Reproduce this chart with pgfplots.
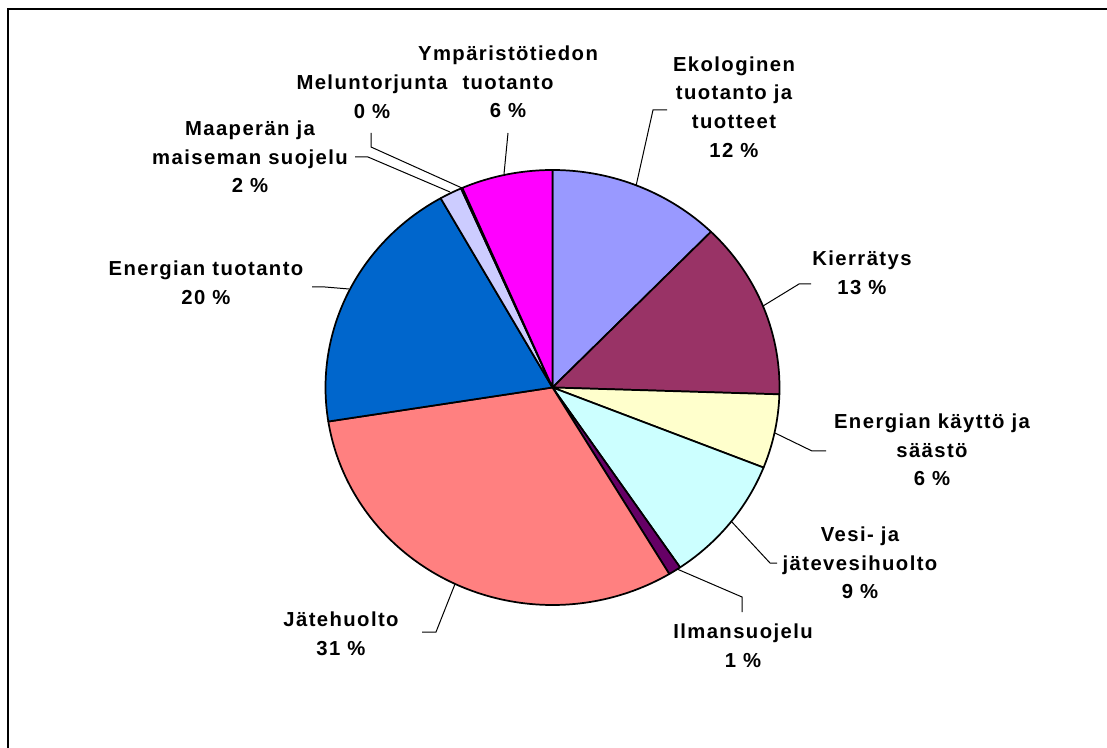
\documentclass[border=0pt]{standalone}
\usepackage{fontspec}
\setmainfont{Liberation Sans}[LetterSpace=7]
\usepackage{pgfplots}
\pgfplotsset{compat=1.18}
\definecolor{c1}{HTML}{9999FF}
\definecolor{c2}{HTML}{993366}
\definecolor{c3}{HTML}{FFFFCC}
\definecolor{c4}{HTML}{CCFFFF}
\definecolor{c5}{HTML}{660066}
\definecolor{c6}{HTML}{FF8080}
\definecolor{c7}{HTML}{0066CC}
\definecolor{c8}{HTML}{CCCCFF}
\definecolor{c9}{HTML}{000080}
\definecolor{c10}{HTML}{FF00FF}
\begin{document}
\begin{tikzpicture}
\useasboundingbox (0,0) rectangle (830.25pt,560.25pt);
\fill[white] (0,0) rectangle (830.25pt,560.25pt);
\begin{axis}[at={(414.375pt,269.625pt)}, anchor=origin,
  x=170.25pt, y=163.125pt, xmin=-1, xmax=1, ymin=-1, ymax=1,
  hide axis, clip=false]
\xdef\cum{0}
% shares in percent, clockwise from 12 o'clock
\foreach \v/\c in {12.3/c1, 13.2/c2, 5.5/c3, 9.5/c4, 0.9/c5, 31.1/c6, 19.3/c7, 1.6/c8, 0.1/c9, 6.5/c10} {
  \pgfmathsetmacro\a{90-\cum*3.6}
  \pgfmathsetmacro\b{90-(\cum+\v)*3.6}
  \edef\tmp{\noexpand\addplot[draw=black, line width=1.3pt, line join=round, fill=\c, domain=\b:\a, samples=90] ({cos(x)},{sin(x)}) -- (axis cs:0,0) -- cycle;}
  \tmp
  \pgfmathsetmacro\n{\cum+\v}
  \xdef\cum{\n}
}
\end{axis}
\begin{scope}[shift={(0pt,560.25pt)}, x=0.75pt, y=-0.75pt]
\draw[line width=1.2pt] (8,760) -- (8,9) -- (1120,9);
\tikzset{lbl/.style={align=center, font=\bfseries\fontsize{15.2}{21.5}\selectfont, inner sep=0pt}}
\node[lbl] at (734,107) {Ekologinen\\tuotanto ja\\tuotteet\\12 \%};
\node[lbl] at (862,273) {Kierrätys\\13 \%};
\node[lbl] at (932,450) {Energian käyttö ja\\säästö\\6 \%};
\node[lbl] at (860,563) {Vesi- ja\\jätevesihuolto\\9 \%};
\node[lbl] at (743,646) {Ilmansuojelu\\1 \%};
\node[lbl] at (341,634) {Jätehuolto\\31 \%};
\node[lbl] at (206,283) {Energian tuotanto\\20 \%};
\node[lbl] at (250,157) {Maaperän ja\\maiseman suojelu\\2 \%};
\node[lbl] at (372,97) {Meluntorjunta\\0 \%};
\node[lbl] at (508,82) {Ympäristötiedon\\tuotanto\\6 \%};
\tikzset{ld/.style={line width=0.75pt}}
\draw[ld] (636,186) -- (653,110) -- (667,110);
\draw[ld] (763,306) -- (799,284) -- (811,284);
\draw[ld] (775,433) -- (812,451) -- (826,451);
\draw[ld] (731,521) -- (770,563) -- (777,563);
\draw[ld] (677,569) -- (742,597) -- (742,612);
\draw[ld] (455,584) -- (436,632) -- (422,632);
\draw[ld] (349,289) -- (325,287) -- (312,287);
\draw[ld] (450,192) -- (368,157) -- (355,157);
\draw[ld] (462,188) -- (371,147) -- (371,133);
\draw[ld] (504,174) -- (508,133);
\end{scope}
\end{tikzpicture}
\end{document}
